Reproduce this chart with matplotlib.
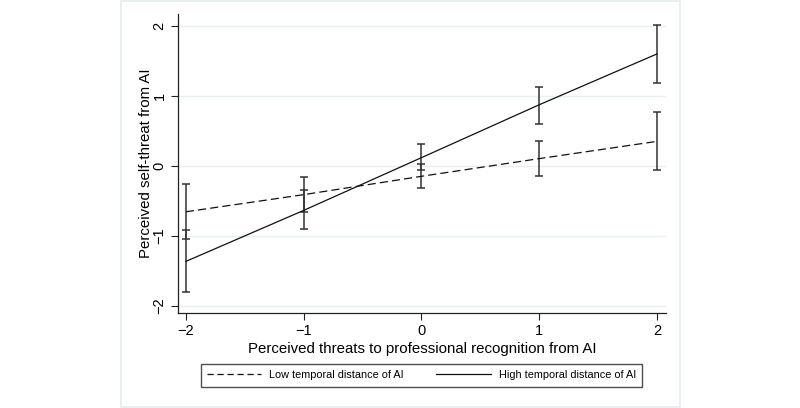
import matplotlib
matplotlib.use("Agg")
import matplotlib.pyplot as plt
from matplotlib.patches import Rectangle
from matplotlib.lines import Line2D

plt.rcParams['font.family'] = ['Liberation Sans', 'DejaVu Sans']

# Data
x_vals = [-2, -1, 0, 1, 2]
low_mean = [-0.655, -0.41, -0.147, 0.106, 0.353]
low_lo = [-1.05, -0.665, -0.32, -0.15, -0.05]
low_hi = [-0.255, -0.153, 0.033, 0.363, 0.78]
high_mean = [-1.365, -0.635, 0.12, 0.877, 1.605]
high_lo = [-1.81, -0.90, -0.062, 0.605, 1.19]
high_hi = [-0.92, -0.347, 0.31, 1.13, 2.024]
x_ticks = [-2, -1, 0, 1, 2]
y_ticks = [-2, -1, 0, 1, 2]
tick_labels_x = ['\u22122', '\u22121', '0', '1', '2']
tick_labels_y = ['\u22122', '\u22121', '0', '1', '2']
xlabel = 'Perceived threats to professional recognition from AI'
ylabel = 'Perceived self-threat from AI'
series_names = ['Low temporal distance of AI', 'High temporal distance of AI']

W, H = 800, 408
fig = plt.figure(figsize=(W / 100, H / 100), dpi=100)
fig.patch.set_facecolor('white')

# graph region outline
fig.add_artist(Rectangle((120.5 / W, 1 - 407 / H), (680 - 120.5) / W, (407 - 0.5) / H,
                         transform=fig.transFigure, fill=False,
                         edgecolor='#e3ecee', linewidth=1.2))

ax = fig.add_axes([177.7 / W, 1 - 313 / H, (666 - 177.7) / W, (313 - 14) / H])
ax.set_xlim(-2.07, 2.076)
ax.set_ylim(-2.104, 2.176)

for s in ['top', 'right']:
    ax.spines[s].set_visible(False)
for s in ['left', 'bottom']:
    ax.spines[s].set_color('#222222')
    ax.spines[s].set_linewidth(0.9)

ax.set_yticks(y_ticks)
ax.set_yticklabels(tick_labels_y, rotation=90, va='center')
ax.set_xticks(x_ticks)
ax.set_xticklabels(tick_labels_x)
ax.tick_params(axis='both', direction='out', length=5, width=0.8, color='#222222',
               labelsize=10.5, labelcolor='black', pad=3)

for yv in y_ticks:
    ax.axhline(yv, color='#e8f0f2', linewidth=1.0, zorder=0)

ecol = '#333333'
ax.errorbar(x_vals, low_mean,
            yerr=[[m - l for m, l in zip(low_mean, low_lo)],
                  [h - m for m, h in zip(low_mean, low_hi)]],
            fmt='none', ecolor=ecol, elinewidth=1.1, capsize=2.6, capthick=1.1, zorder=3)
ax.errorbar(x_vals, high_mean,
            yerr=[[m - l for m, l in zip(high_mean, high_lo)],
                  [h - m for m, h in zip(high_mean, high_hi)]],
            fmt='none', ecolor=ecol, elinewidth=1.1, capsize=2.6, capthick=1.1, zorder=3)

ax.plot(x_vals, low_mean, color='#111111', linewidth=0.9, linestyle=(0, (6.5, 3.3)), zorder=4)
ax.plot(x_vals, high_mean, color='#111111', linewidth=0.9, linestyle='-', zorder=4)

ax.set_xlabel(xlabel, fontsize=10.8, labelpad=3)
ax.set_ylabel(ylabel, fontsize=10.8)
ax.yaxis.set_label_coords(-0.05, 0.5)

handles = [Line2D([], [], color='#111111', linewidth=0.9, linestyle=(0, (5, 3))),
           Line2D([], [], color='#111111', linewidth=0.9, linestyle='-')]
leg = fig.legend(handles, series_names, ncol=2,
                 bbox_to_anchor=((197 + 646) / 2 / W, 1 - 375 / H),
                 loc='center', fontsize=7.8, frameon=True, fancybox=False,
                 handlelength=5.0, handletextpad=0.74, columnspacing=3.0,
                 borderpad=0.6, borderaxespad=0)
leg.get_frame().set_edgecolor('#222222')
leg.get_frame().set_linewidth(1.0)

fig.savefig('out.png', dpi=100)
